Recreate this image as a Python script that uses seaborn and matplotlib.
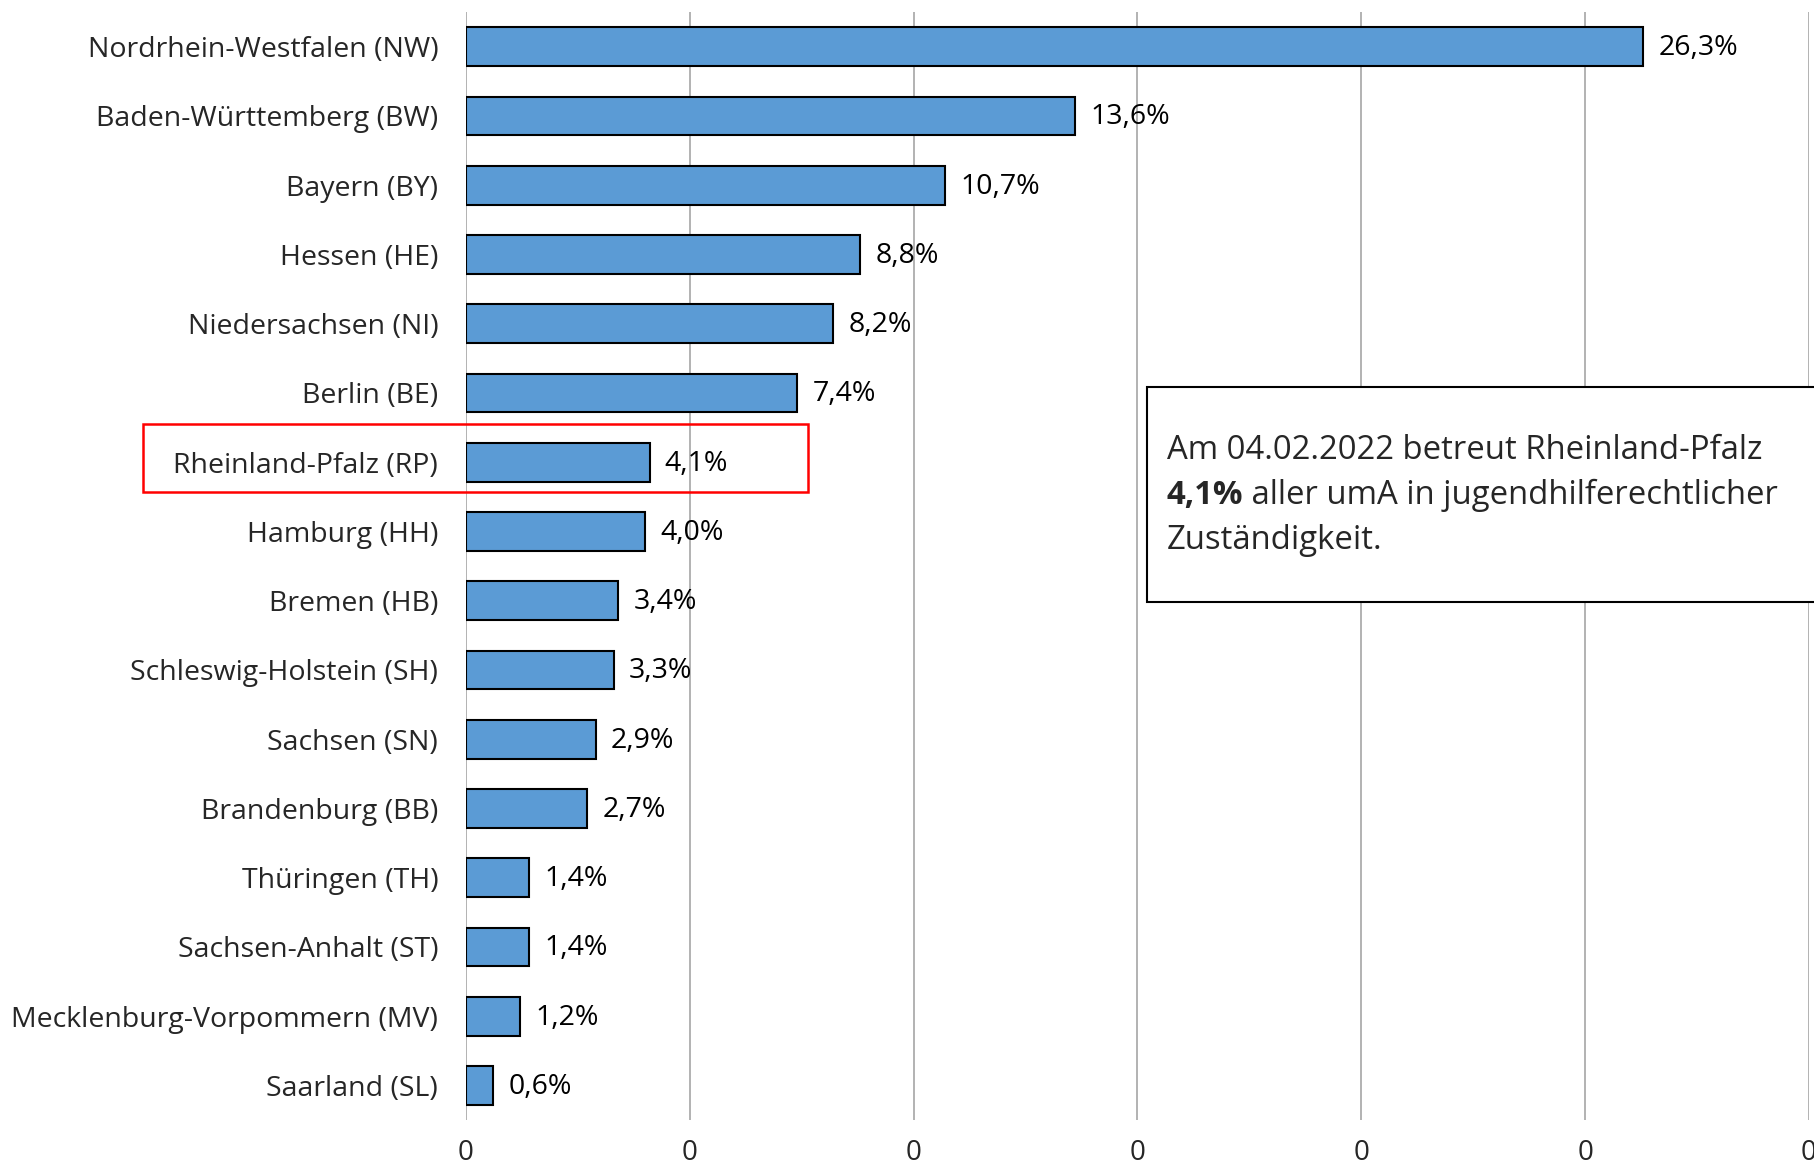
import pandas as pd
import seaborn as sns
import matplotlib.pyplot as plt
from matplotlib.patches import Rectangle
from matplotlib.ticker import FuncFormatter

# Anteil der umA je Bundesland (Stand 04.02.2022)
laender = [
    "Nordrhein-Westfalen (NW)", "Baden-Württemberg (BW)", "Bayern (BY)",
    "Hessen (HE)", "Niedersachsen (NI)", "Berlin (BE)", "Rheinland-Pfalz (RP)",
    "Hamburg (HH)", "Bremen (HB)", "Schleswig-Holstein (SH)", "Sachsen (SN)",
    "Brandenburg (BB)", "Thüringen (TH)", "Sachsen-Anhalt (ST)",
    "Mecklenburg-Vorpommern (MV)", "Saarland (SL)",
]
anteile = [26.3, 13.6, 10.7, 8.8, 8.2, 7.4, 4.1, 4.0, 3.4, 3.3, 2.9, 2.7, 1.4, 1.4, 1.2, 0.6]
x_ticks = [0, 5, 10, 15, 20, 25, 30]
hervorgehoben = "Rheinland-Pfalz (RP)"

df = pd.DataFrame({"land": laender, "anteil": anteile})

sns.set_style("white")
plt.rcParams["font.family"] = ["Open Sans", "DejaVu Sans"]

fig = plt.figure(figsize=(18.14, 11.69), dpi=100)
ax = fig.add_axes([0.2569, 0.0419, 0.7403, 0.9478])

sns.barplot(data=df, x="anteil", y="land", orient="h", color="#5B9BD5",
            saturation=1, edgecolor="black", linewidth=1.5, width=0.56, ax=ax, zorder=3)

# value labels with German decimal comma
for bar, val in zip(ax.patches, anteile):
    ax.annotate(f"{val:.1f}%".replace(".", ","),
                xy=(bar.get_width(), bar.get_y() + bar.get_height() / 2),
                xytext=(11, -1), textcoords="offset points",
                ha="left", va="center", fontsize=20.5, color="black")

ax.set_xlim(0, 30)
ax.set_ylim(len(laender) - 0.5, -0.5)
ax.set_xticks(x_ticks)
ax.xaxis.set_major_formatter(FuncFormatter(lambda v, p: "0"))
ax.grid(axis="x", color="#A6A6A6", linewidth=1.2, zorder=0)
ax.grid(axis="y", visible=False)
for s in ax.spines.values():
    s.set_visible(False)
ax.tick_params(axis="y", length=0, pad=20, labelsize=20.5)
ax.tick_params(axis="x", length=0, pad=14, labelsize=20)
ax.set_xlabel("")
ax.set_ylabel("")

# red frame around Rheinland-Pfalz row
idx = laender.index(hervorgehoben)
x_left = -323 / (1343 / 30)
rect = Rectangle((x_left, idx - 0.545), 7.64 - x_left, 0.98, fill=False,
                 edgecolor="#FF0000", linewidth=1.8, clip_on=False, zorder=5)
ax.add_patch(rect)

# annotation box
box = Rectangle((15.21, 4.92), 20, 3.10, fill=True, facecolor="white",
                edgecolor="black", linewidth=1.5, clip_on=False, zorder=4)
ax.add_patch(box)
t1 = ax.text(15.65, 5.83, "Am 04.02.2022 betreut Rheinland-Pfalz",
             fontsize=23.7, va="center", ha="left", zorder=6)
t2 = ax.text(15.65, 6.48, "4,1%", fontsize=23.7, fontweight="bold",
             va="center", ha="left", zorder=6)
ax.annotate(" aller umA in jugendhilferechtlicher", xy=(1, 0.5), xycoords=t2,
            va="center", ha="left", fontsize=23.7, zorder=6)
ax.text(15.65, 7.13, "Zuständigkeit.", fontsize=23.7, va="center", ha="left", zorder=6)

fig.savefig("out.png", dpi=100)
